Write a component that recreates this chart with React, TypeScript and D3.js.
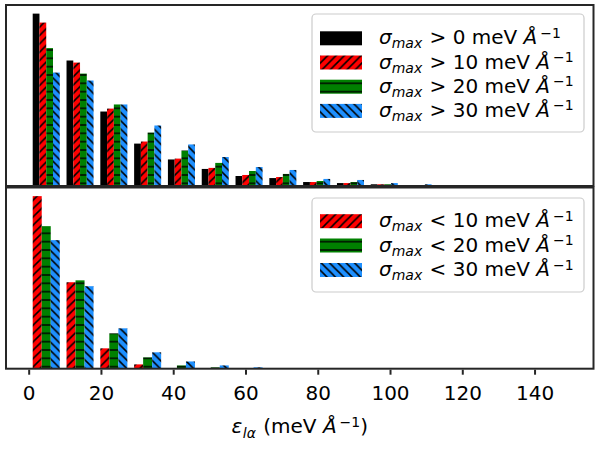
import React from "react";
import * as d3 from "d3";

// ---- data (relative counts) ----
const binEdges = [0.04, 9.4, 18.75, 28.11, 37.46, 46.82, 56.17, 65.53, 74.88, 84.24, 93.59, 102.95, 112.3, 121.66, 131.01, 140.37, 149.72];

const topGt0 = [1.0, 0.728, 0.432, 0.246, 0.154, 0.099, 0.058, 0.046, 0.023, 0.017, 0.01, 0.004, 0.001, 0, 0, 0.0005];
const topGt10 = [0.948, 0.716, 0.449, 0.258, 0.159, 0.105, 0.064, 0.052, 0.023, 0.017, 0.01, 0.004, 0.001, 0, 0, 0];
const topGt20 = [0.8, 0.652, 0.473, 0.31, 0.206, 0.134, 0.087, 0.07, 0.029, 0.023, 0.01, 0.005, 0.001, 0, 0, 0];
const topGt30 = [0.658, 0.612, 0.473, 0.351, 0.241, 0.168, 0.11, 0.093, 0.041, 0.035, 0.017, 0.01, 0.002, 0, 0, 0];

const bottomLt10 = [1.0, 0.501, 0.118, 0.025, 0.002, 0.001, 0.001, 0, 0, 0, 0, 0, 0, 0, 0, 0];
const bottomLt20 = [0.826, 0.512, 0.205, 0.066, 0.019, 0.008, 0.003, 0.002, 0.001, 0, 0, 0, 0, 0, 0, 0];
const bottomLt30 = [0.745, 0.478, 0.234, 0.095, 0.042, 0.019, 0.008, 0.004, 0.002, 0.001, 0, 0, 0, 0, 0, 0];

const topThresholds = ["0", "10", "20", "30"];
const bottomThresholds = ["10", "20", "30"];
const xTicks = [0, 20, 40, 60, 80, 100, 120, 140];

// ---- styles ----
const FONT = "DejaVu Sans";
const FS = 20;
const SFS = 14;
const SPINE = "#262626";
const P = 100 / 12;

const topFills = ["#000000", "url(#pat-red)", "url(#pat-green)", "url(#pat-blue)"];
const bottomFills = ["url(#pat-red)", "url(#pat-green)", "url(#pat-blue)"];

const X0 = 6, X1 = 593.5;
const TOP_Y0 = 5, TOP_Y1 = 186;
const BOT_Y0 = 187.5, BOT_Y1 = 368.7;

type Seg = { t: string; it?: boolean; sub?: boolean; sup?: boolean; dx?: number };

function RichText({ x, y, segs, anchor = "start", subShift = 4 }: { x: number; y: number; segs: Seg[]; anchor?: string; subShift?: number }) {
  let cur = 0;
  return (
    <text x={x} y={y} fontFamily={FONT} fontSize={FS} textAnchor={anchor} fill="#000" style={{ whiteSpace: "pre" }}>
      {segs.map((s, i) => {
        const target = s.sub ? subShift : s.sup ? -6.5 : 0;
        const dy = target - cur;
        cur = target;
        return (
          <tspan key={i} dy={dy} dx={s.dx || 0} fontSize={s.sub || s.sup ? SFS : FS} fontStyle={s.it ? "italic" : "normal"}>
            {s.t}
          </tspan>
        );
      })}
    </text>
  );
}

function legendSegs(sign: string, th: string): Seg[] {
  return [
    { t: "σ", it: true },
    { t: "max", it: true, sub: true },
    { t: ` ${sign} ${th} meV `, dx: 1 },
    { t: "Å", it: true },
    { t: "−1", sup: true, dx: 3 },
  ];
}

const nb = binEdges.length - 1;
const w0 = binEdges[1] - binEdges[0];
const wl = binEdges[nb] - binEdges[nb - 1];
const dataMin = binEdges[0] + 0.1 * w0;
const dataMax = binEdges[nb] - 0.1 * wl;
const pad = 0.05 * (dataMax - dataMin);
const xScale = d3.scaleLinear().domain([dataMin - pad, dataMax + pad]).range([X0, X1]);

function Bars({ series, fills, y }: { series: number[][]; fills: string[]; y: d3.ScaleLinear<number, number> }) {
  const n = series.length;
  return (
    <g>
      {series.map((vals, s) =>
        vals.map((v, i) => {
          const w = binEdges[i + 1] - binEdges[i];
          const bw = (0.8 * w) / n;
          const left = binEdges[i] + 0.1 * w + s * bw;
          const xl = xScale(left);
          const xr = xScale(left + bw);
          const yt = y(v);
          const y0 = y(0);
          if (y0 - yt <= 0) return null;
          return <rect key={`${s}-${i}`} x={xl} y={yt} width={xr - xl} height={y0 - yt} fill={fills[s]} />;
        })
      )}
    </g>
  );
}

function Legend({ x0, y0, x1, y1, rows, fills, sign, ths }: { x0: number; y0: number; x1: number; y1: number; rows: number[]; fills: string[]; sign: string; ths: string[] }) {
  return (
    <g>
      <rect x={x0} y={y0} width={x1 - x0} height={y1 - y0} rx={4} ry={4} fill="#fff" fillOpacity={0.8} stroke="#cccccc" strokeWidth={1.2} />
      {rows.map((cy, i) => (
        <g key={i}>
          <rect x={320} y={cy - 7} width={42} height={14} fill={fills[i]} />
          <RichText x={379} y={cy + 6} segs={legendSegs(sign, ths[i])} />
        </g>
      ))}
    </g>
  );
}

export default function App() {
  const topMax = d3.max([...topGt0, ...topGt10, ...topGt20, ...topGt30]) as number;
  const botMax = d3.max([...bottomLt10, ...bottomLt20, ...bottomLt30]) as number;
  const yTop = d3.scaleLinear().domain([0, topMax * 1.05]).range([TOP_Y1, TOP_Y0]);
  const yBot = d3.scaleLinear().domain([0, botMax * 1.05]).range([BOT_Y1, BOT_Y0]);

  return (
    <svg width={600} height={450} style={{ position: "absolute", left: 0, top: 0, background: "#fff" }}>
      <defs>
        <pattern id="pat-red" patternUnits="userSpaceOnUse" width={P} height={P}>
          <rect width={P} height={P} fill="#ff0000" />
          <path d={`M0,${P} L${P},0 M${-P / 2},${P / 2} L${P / 2},${-P / 2} M${P / 2},${P * 1.5} L${P * 1.5},${P / 2}`} stroke="#000" strokeWidth={1.5} />
        </pattern>
        <pattern id="pat-green" patternUnits="userSpaceOnUse" width={P} height={P}>
          <rect width={P} height={P} fill="#008000" />
          <path d={`M0,0 L${P},0 M0,${P} L${P},${P}`} stroke="#000" strokeWidth={1.5} />
        </pattern>
        <pattern id="pat-blue" patternUnits="userSpaceOnUse" width={P} height={P}>
          <rect width={P} height={P} fill="#1e90ff" />
          <path d={`M0,0 L${P},${P} M${-P / 2},${P / 2} L${P / 2},${P * 1.5} M${P / 2},${-P / 2} L${P * 1.5},${P / 2}`} stroke="#000" strokeWidth={1.5} />
        </pattern>
      </defs>

      <Bars series={[topGt0, topGt10, topGt20, topGt30]} fills={topFills} y={yTop} />
      <Bars series={[bottomLt10, bottomLt20, bottomLt30]} fills={bottomFills} y={yBot} />

      {/* spines */}
      <rect x={X0} y={TOP_Y0} width={X1 - X0} height={TOP_Y1 - TOP_Y0} fill="none" stroke={SPINE} strokeWidth={2} />
      <rect x={X0} y={BOT_Y0} width={X1 - X0} height={BOT_Y1 - BOT_Y0} fill="none" stroke={SPINE} strokeWidth={2} />

      {/* x ticks */}
      {xTicks.map((t) => (
        <g key={t}>
          <line x1={xScale(t)} x2={xScale(t)} y1={BOT_Y1 + 1} y2={BOT_Y1 + 6} stroke={SPINE} strokeWidth={2} />
          <text x={xScale(t)} y={400} textAnchor="middle" fontFamily={FONT} fontSize={FS} fill="#000">
            {t}
          </text>
        </g>
      ))}

      <RichText
        x={(X0 + X1) / 2}
        y={433}
        anchor="middle"
        subShift={4.5}
        segs={[
          { t: "ε", it: true },
          { t: "lα", it: true, sub: true, dx: 0.5 },
          { t: " (meV ", dx: 1 },
          { t: "Å", it: true },
          { t: "−1", sup: true, dx: 3 },
          { t: ")" },
        ]}
      />

      <Legend x0={312} y0={14} x1={584} y1={132} rows={[38.3, 62.5, 86.7, 110.9]} fills={topFills} sign=">" ths={topThresholds} />
      <Legend x0={312} y0={198} x1={584} y1={292} rows={[221.2, 245.5, 270]} fills={bottomFills} sign="<" ths={bottomThresholds} />
    </svg>
  );
}
